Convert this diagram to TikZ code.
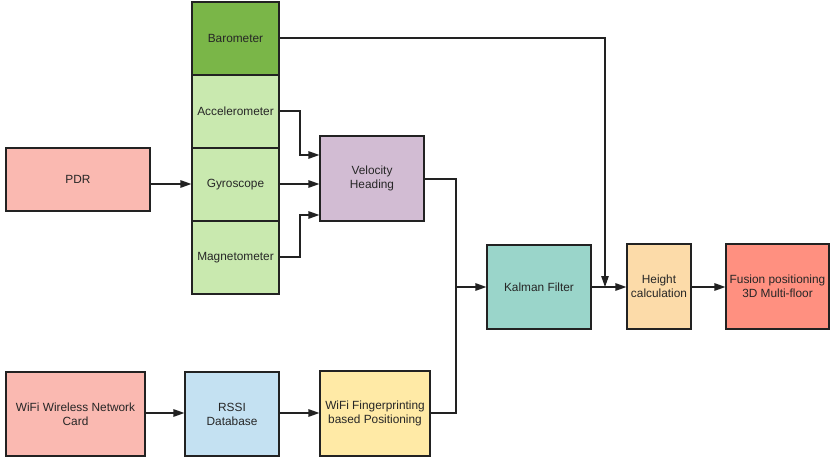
\documentclass[tikz,border=0pt]{standalone}
\usepackage{fontspec}
\setmainfont{Liberation Sans}
\usetikzlibrary{arrows.meta}
\definecolor{cBaro}{HTML}{7AB648}
\definecolor{cSens}{HTML}{C9E9AF}
\definecolor{cPink}{HTML}{FAB9B1}
\definecolor{cVel}{HTML}{D2BCD3}
\definecolor{cKal}{HTML}{9AD5CA}
\definecolor{cHeight}{HTML}{FCDBA9}
\definecolor{cFusion}{HTML}{FF9080}
\definecolor{cRssi}{HTML}{C4E1F2}
\definecolor{cWifi}{HTML}{FFEAA6}
\definecolor{cLine}{HTML}{222222}
\tikzset{
  blk/.style={draw=cLine, line width=1.2pt, align=center, inner sep=0pt,
    font=\fontsize{11.9}{14}\selectfont, text=black!85},
  conn/.style={draw=cLine, line width=1.2pt, -{Triangle[length=11pt,width=7.5pt]}},
  plain/.style={draw=cLine, line width=1.2pt}
}
\newcommand{\mkbox}[7]{%
  \node[blk, fill=#6, minimum width={(#4-#2)*1bp}, minimum height={(#5-#3)*1bp}] (#1) at ({(#2+#4)/2},{(#3+#5)/2}) {#7};}
\begin{document}
\begin{tikzpicture}[x=1bp,y=-1bp]
\useasboundingbox (0,0) rectangle (830,460);
\mkbox{baro}{192}{2}{279}{75}{cBaro}{Barometer}
\mkbox{acc}{192}{75}{279}{148}{cSens}{Accelerometer}
\mkbox{gyr}{192}{148}{279}{221}{cSens}{Gyroscope}
\mkbox{mag}{192}{221}{279}{294}{cSens}{Magnetometer}
\mkbox{pdr}{6}{148}{150}{211}{cPink}{PDR}
\mkbox{vel}{320}{136}{424}{221}{cVel}{Velocity\\Heading}
\mkbox{kal}{487}{245}{591}{329}{cKal}{Kalman Filter}
\mkbox{hgt}{627}{244}{691}{329}{cHeight}{Height\\calculation}
\mkbox{fus}{726}{244}{829}{329}{cFusion}{Fusion positioning\\3D Multi-floor}
\mkbox{card}{6}{372}{145}{456}{cPink}{WiFi Wireless Network\\Card}
\mkbox{rssi}{185}{372}{279}{456}{cRssi}{RSSI\\Database}
\mkbox{wfp}{320}{371}{430}{456}{cWifi}{WiFi Fingerprinting\\based Positioning}
\coordinate (jn) at (456,287);
\coordinate (bj) at (605,287);
% sensors to velocity
\draw[conn] (acc.east |- 0,111) -- (300,111) -- (300,155) -- (vel.west |- 0,155);
\draw[conn] (gyr.east |- 0,184) -- (vel.west |- 0,184);
\draw[conn] (mag.east |- 0,257) -- (300,257) -- (300,215) -- (vel.west |- 0,215);
\draw[conn] (pdr.east |- 0,184) -- (gyr.west |- 0,184);
% to kalman
\draw[plain] (vel.east |- 0,179) -- (456,179) -- (jn);
\draw[plain] (wfp.east |- 0,413) -- (456,413) -- (jn);
\draw[conn] (jn) -- (kal.west |- jn);
% kalman to height
\draw[conn] (kal.east |- 0,287) -- (hgt.west |- 0,287);
\draw[conn] (baro.east |- 0,38) -- (605,38) -- (bj);
\draw[conn] (hgt.east |- 0,287) -- (fus.west |- 0,287);
% wifi chain
\draw[conn] (card.east |- 0,413) -- (rssi.west |- 0,413);
\draw[conn] (rssi.east |- 0,413) -- (wfp.west |- 0,413);
\end{tikzpicture}
\end{document}
